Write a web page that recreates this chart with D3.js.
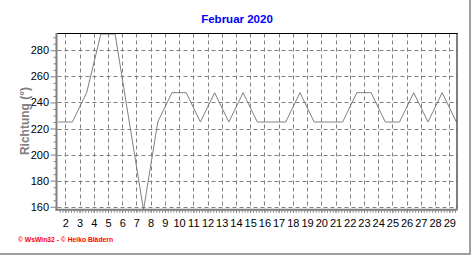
<!DOCTYPE html>
<html>
<head>
<meta charset="utf-8">
<script src="https://cdn.jsdelivr.net/npm/d3@7"></script>
<style>
body { margin: 0; background: #fff; }
.canvas svg { display: block; }
text { font-family: 'Liberation Sans', Arial, sans-serif; }
</style>
</head>
<body>
<div class="canvas"></div>
<script>
// data
const days = [1, 2, 3, 4, 5, 6, 7, 8, 9, 10, 11, 12, 13, 14, 15, 16, 17, 18, 19, 20, 21, 22, 23, 24, 25, 26, 27, 28, 29];
const richtung = [225, 225, 247.5, 292.5, 292.5, 225, 157.5, 225, 247.5, 247.5, 225, 247.5, 225, 247.5, 225,
    225, 225, 247.5, 225, 225, 225, 247.5, 247.5, 225, 225, 247.5, 225, 247.5, 225];
const yTicks = [160, 180, 200, 220, 240, 260, 280];
const xTickLabels = ['2', '3', '4', '5', '6', '7', '8', '9', '10', '11', '12', '13', '14', '15', '16',
    '17', '18', '19', '20', '21', '22', '23', '24', '25', '26', '27', '28', '29'];

const svg = d3.select('.canvas').append('svg')
    .attr("width", 472)
    .attr('height', 255);

const frame = { left: 56.5, top: 33.5, right: 457, bottom: 209.7 };

// scales
const x = d3.scaleLinear()
    .domain([1, 29])
    .range([58.2, 456.4]);

const y = d3.scaleLinear()
    .domain([157.5, 292.5])
    .range([210, 34]);

// tick labels sit half a day before each point
const xTickPos = xTickLabels.map(d => +d - 0.5);

// grid
const grid = svg.append('g');
grid.selectAll('line.h')
    .data(yTicks)
    .enter().append('line')
    .attr('x1', frame.left + 1).attr('x2', frame.right)
    .attr('y1', d => Math.round(y(d)) + 0.5).attr('y2', d => Math.round(y(d)) + 0.5)
    .attr('stroke', '#808080').attr('stroke-dasharray', '4,3');
grid.selectAll('line.v')
    .data(xTickPos)
    .enter().append('line')
    .attr('x1', d => Math.round(x(d)) + 0.5).attr('x2', d => Math.round(x(d)) + 0.5)
    .attr('y1', frame.top).attr('y2', frame.bottom - 1)
    .attr('stroke', '#808080').attr('stroke-dasharray', '4,3');

// line
const line = d3.line()
    .x((d, i) => x(days[i]))
    .y(d => y(d));

svg.append('path')
    .datum(richtung)
    .attr('d', line)
    .attr('fill', 'none')
    .attr('stroke', '#808080')
    .attr('stroke-width', 1);

// frame: top/right black, left/bottom grey
svg.append('line').attr('x1', frame.left).attr('x2', frame.right + 0.5)
    .attr('y1', 33.5).attr('y2', 33.5).attr('stroke', '#000');
svg.append('line').attr('x1', frame.right).attr('x2', frame.right)
    .attr('y1', 33).attr('y2', frame.bottom).attr('stroke', '#000');
svg.append('line').attr('x1', frame.left).attr('x2', frame.left)
    .attr('y1', 33).attr('y2', frame.bottom + 1).attr('stroke', '#808080').attr('stroke-width', 2);
svg.append('line').attr('x1', frame.left - 1).attr('x2', frame.right + 0.5)
    .attr('y1', frame.bottom).attr('y2', frame.bottom).attr('stroke', '#808080').attr('stroke-width', 2);

// axes
const yAxis = d3.axisLeft(y).tickValues(yTicks).tickSize(6).tickPadding(1.5);
const yMinor = d3.axisLeft(y)
    .tickValues(d3.range(160, 292.5, 5).filter(d => d % 20 !== 0))
    .tickSize(3).tickFormat('');
const xMinor = d3.axisBottom(x)
    .tickValues(d3.range(1.1, 29, 0.2))
    .tickSize(3).tickFormat('');
const xAxis = d3.axisBottom(x).tickValues(xTickPos)
    .tickSize(3).tickPadding(7)
    .tickFormat(d => String(d + 0.5));

const yAxisGroup = svg.append('g').attr('transform', `translate(${frame.left},0)`).call(yAxis);
const yMinorGroup = svg.append('g').attr('transform', `translate(${frame.left},0)`).call(yMinor);
const xMinorGroup = svg.append('g').attr('transform', `translate(0,${frame.bottom})`).call(xMinor);
const xAxisGroup = svg.append('g').attr('transform', `translate(0,${frame.bottom})`).call(xAxis);

[yAxisGroup, yMinorGroup, xMinorGroup, xAxisGroup].forEach(g => {
    g.select('.domain').remove();
    g.selectAll('line').attr('stroke', '#808080');
    g.selectAll('text')
        .attr('font-family', "'Liberation Sans', Arial, sans-serif")
        .attr('font-size', 11)
        .attr('fill', '#000');
});

// titles
svg.append('text')
    .attr('x', 237).attr('y', 23)
    .attr('text-anchor', 'middle')
    .attr('font-size', 11.5).attr('font-weight', 'bold')
    .attr('fill', '#0000ff')
    .text('Februar 2020');

svg.append('text')
    .attr('transform', 'translate(29,121) rotate(-90)')
    .attr('text-anchor', 'middle')
    .attr('font-size', 12).attr('font-weight', 'bold')
    .attr('fill', '#808080')
    .text('Richtung (°)');

svg.append('text')
    .attr('x', 18).attr('y', 241.5)
    .attr('font-size', 7).attr('font-weight', 'bold')
    .attr('fill', '#ff0000')
    .attr('textLength', 95).attr('lengthAdjust', 'spacingAndGlyphs')
    .text('© WsWin32  -  © Heiko Blädern');

// outer border (right + bottom)
svg.append('line').attr('x1', 470).attr('x2', 470).attr('y1', 0).attr('y2', 255)
    .attr('stroke', '#a0a0a0').attr('stroke-width', 2);
svg.append('line').attr('x1', 0).attr('x2', 471).attr('y1', 254).attr('y2', 254)
    .attr('stroke', '#a0a0a0').attr('stroke-width', 2);
</script>
</body>
</html>
